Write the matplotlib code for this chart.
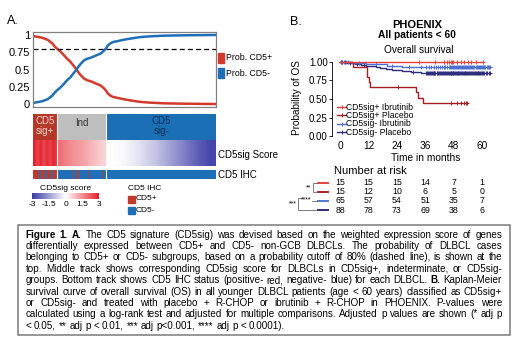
import numpy as np
import matplotlib
matplotlib.use('Agg')
import matplotlib.pyplot as plt
import matplotlib.transforms as mtransforms
from matplotlib import cm
from matplotlib.colors import LinearSegmentedColormap, ListedColormap, Normalize
from matplotlib.lines import Line2D
from matplotlib.patches import Rectangle

plt.rcParams['font.family'] = ['Liberation Sans', 'DejaVu Sans']

# ---------------- panel A data ----------------
sample_rank = [0, 3, 5, 8, 10.5, 12, 13.2, 15, 16.8, 18.5, 20.5, 22, 23.2, 24.5, 26, 27.8, 29.5,
               31.5, 33.3, 35, 36.9, 38.5, 39.7, 41, 42.4, 44, 46.1, 48.5, 51.6, 55, 58.9, 64,
               71.7, 82, 100]
prob_cd5_pos = [0.985, 0.97, 0.96, 0.93, 0.88, 0.83, 0.80, 0.76, 0.71, 0.66, 0.61, 0.56, 0.52,
                0.47, 0.42, 0.37, 0.345, 0.33, 0.31, 0.29, 0.27, 0.235, 0.20, 0.15, 0.12, 0.10,
                0.09, 0.075, 0.06, 0.045, 0.03, 0.02, 0.01, 0.005, 0.0]
prob_cutoff = 0.8

group_names = ['CD5\nsig+', 'Ind', 'CD5\nsig-']
group_sizes = [16, 32, 72]
score_sig_pos = [3.0, 2.5, 2.9, 2.4, 2.8, 2.5, 2.9, 2.7]
score_ind = [1.9, 1.7, 1.5, 1.35, 1.2, 1.0, 0.8, 0.6]
score_sig_neg = [0.0, -0.1, -0.3, -0.6, -0.9, -1.3, -1.7, -2.1, -2.5, -2.8]
ihc_pos_samples = [0, 1, 2, 3, 5, 6, 7, 9, 10, 11, 13, 14, 15, 26, 29, 36, 45]

# ---------------- panel B data ----------------
km_labels = ['CD5sig+ Ibrutinib', 'CD5sig+ Placebo', 'CD5sig- Ibrutinib', 'CD5sig- Placebo']
events_pos_ibr = []
censor_pos_ibr = [33.5, 40, 44, 45, 46, 46.8, 47.3, 47.8, 49.5, 51, 52.5, 54, 55.5, 57.5, 60.2]
events_pos_pla = [5.6, 11.2, 11.6, 12.2, 12.6, 32, 33, 35]
censor_pos_pla = [24.5, 47, 49.5, 51, 52.5, 53.2, 53.8]
events_neg_ibr = [5, 11, 20, 26]
censor_neg_ibr = [0.5, 1, 1.5, 2.5, 3.5, 8, 15, 22, 29, 34,
                  36.5, 37.5, 38.5, 39.5, 40.5, 41.5, 42.2, 43, 43.8, 44.5, 45.2, 45.9, 46.5,
                  47, 47.5, 47.9,
                  48.3, 48.7, 49.1, 49.5, 49.9, 50.3, 50.7, 51.1, 51.5, 51.9, 52.3, 52.7, 53.1,
                  53.5, 53.9, 54.3, 54.8, 55.3, 55.8, 56.3, 56.8, 57.3, 57.8, 58.3, 58.8, 59.2,
                  59.6, 59.9,
                  60.4, 60.9, 61.4, 61.9, 62.4, 62.9, 63.4]
events_neg_pla = [3, 6.5, 9, 11, 13.5, 15, 17, 19.5, 22, 26, 30, 34]
censor_neg_pla = [0.5, 1, 2, 4, 7, 10, 31,
                  36.3, 36.7, 37.2, 37.5, 37.9, 38.4, 38.7, 39.1, 39.6, 39.9, 40.3, 40.8, 41.1,
                  41.5, 42, 42.3, 42.7, 43.2, 43.5, 43.9, 44.4, 44.7, 45.1, 45.6, 45.9, 46.3,
                  46.7, 47, 47.3, 47.6, 47.9,
                  48.2, 48.6, 48.9, 49.3, 49.7, 50, 50.4, 50.8, 51.1, 51.5, 51.9, 52.2, 52.6,
                  53, 53.3, 53.7, 54.1, 54.5, 54.9, 55.3, 55.7, 56.1, 56.5, 56.9, 57.3, 57.7,
                  58.1, 58.5, 58.9, 59.3, 59.6, 59.9,
                  60.5, 61, 61.6, 62.2, 62.8, 63.4]
risk_times = [0, 12, 24, 36, 48, 60]
risk_pos_ibr = [15, 15, 15, 14, 7, 1]
risk_pos_pla = [15, 12, 10, 6, 5, 0]
risk_neg_ibr = [65, 57, 54, 51, 35, 7]
risk_neg_pla = [88, 78, 73, 69, 38, 6]

caption_lines = [
    "Figure 1. A. The CD5 signature (CD5sig) was devised based on the weighted expression score of genes",
    "differentially expressed between CD5+ and CD5- non-GCB DLBCLs. The probability of DLBCL cases",
    "belonging to CD5+ or CD5- subgroups, based on a probability cutoff of 80% (dashed line), is shown at the",
    "top. Middle track shows corresponding CD5sig score for DLBCLs in CD5sig+, indeterminate, or CD5sig-",
    "groups. Bottom track shows CD5 IHC status (positive- red, negative- blue) for each DLBCL. B. Kaplan-Meier",
    "survival curve of overall survival (OS) in all younger DLBCL patients (age < 60 years) classified as CD5sig+",
    "or CD5sig- and treated with placebo + R-CHOP or ibrutinib + R-CHOP in PHOENIX. P-values were",
    "calculated using a log-rank test and adjusted for multiple comparisons. Adjusted p values are shown (* adj p",
    "< 0.05, ** adj p < 0.01, *** adj p<0.001, **** adj p < 0.0001).",
]
bold_words = {'Figure', '1.', 'A.', 'B.'}

RED = '#d33a2c'
BLUE = '#1f6fb8'
GROUP_COLORS = ['#b5372a', '#bebebe', '#1a6fb5']
GROUP_TEXT = ['#f3d6cf', '#333333', '#0d2d5a']
KM_COLORS = ['#e8403c', '#a31f22', '#4a6fd1', '#2c2c7c']
DASH_COLORS = ['#e8403c', '#b02025', '#4a7ad0', '#2c2c7c']
score_cmap = LinearSegmentedColormap.from_list('score', ['#3b3ba6', '#ffffff', '#e4202a'])
score_norm = Normalize(-3, 3)

W, H = 520, 339
fig = plt.figure(figsize=(W / 100, H / 100), dpi=100)


def fx(x):
    return x / W


def fy(y):
    return 1 - y / H


def px_axes(x0, y0, x1, y1):
    return fig.add_axes([fx(x0), fy(y1), (x1 - x0) / W, (y1 - y0) / H])


def fig_line(xs, ys, **kw):
    fig.add_artist(Line2D([fx(x) for x in xs], [fy(y) for y in ys],
                          transform=fig.transFigure, **kw))


# ================= panel A =================
fig.text(fx(7), fy(21), 'A.', fontsize=9, va='center')

ax = px_axes(33, 32, 216, 107)
ax.plot(sample_rank, prob_cd5_pos, color=RED, lw=1.8)
ax.plot(sample_rank, 1 - np.array(prob_cd5_pos), color=BLUE, lw=1.8)
ax.axhline(prob_cutoff, color='k', lw=0.9, ls=(0, (4, 2.5)))
ax.set_xlim(0, 100)
ax.set_ylim(-0.043, 1.043)
ax.set_xticks([])
ax.set_yticks([0, 0.25, 0.5, 0.75, 1])
ax.set_yticklabels(['0', '0.25', '0.5', '0.75', '1'])
ax.tick_params(axis='y', length=0, pad=2, labelsize=8)
for s in ax.spines.values():
    s.set_color('#808080')
    s.set_linewidth(0.9)

for yy, col, lab in [(58, RED, 'Prob. CD5+'), (73, BLUE, 'Prob. CD5-')]:
    fig.patches.append(Rectangle((fx(218), fy(yy + 5)), 6 / W, 10 / H,
                                 transform=fig.transFigure, color=col))
    fig.text(fx(226), fy(yy), lab, fontsize=6.3, va='center')

n_samples = sum(group_sizes)
bounds = np.concatenate([[0], np.cumsum(group_sizes)]) * 100 / n_samples

# group bar
axg = px_axes(33, 114, 216, 140)
for i, name in enumerate(group_names):
    axg.axvspan(bounds[i], bounds[i + 1], color=GROUP_COLORS[i], lw=0)
    yt = 0.55 if '\n' in name else 0.65
    axg.text((bounds[i] + bounds[i + 1]) / 2, yt, name, ha='center', va='center',
             fontsize=7, color=GROUP_TEXT[i], linespacing=0.95)

# score track
axs = px_axes(33, 140, 216, 166)
for i, sc in enumerate([score_sig_pos, score_ind, score_sig_neg]):
    axs.imshow([sc], extent=(bounds[i], bounds[i + 1], 0, 1), aspect='auto',
               cmap=score_cmap, norm=score_norm, interpolation='bilinear')

# IHC track
ihc_row = np.zeros(n_samples)
ihc_row[ihc_pos_samples] = 1
axi = px_axes(33, 170, 216, 179)
axi.imshow([ihc_row], extent=(0, 100, 0, 1), aspect='auto',
           cmap=ListedColormap([BLUE, '#c0392b']), interpolation='nearest')

for a in (axg, axs, axi):
    for b in bounds[1:-1]:
        a.axvline(b, color='white', lw=0.8)
    a.set_xlim(0, 100)
    a.set_ylim(0, 1)
    a.axis('off')

fig.text(fx(218), fy(155), 'CD5sig Score', fontsize=7, va='center')
fig.text(fx(218), fy(175), 'CD5 IHC', fontsize=7, va='center')

# score legend
fig.text(fx(66), fy(188), 'CD5sig score', fontsize=6.1, ha='center', va='center')
cax = px_axes(32, 193, 99, 199)
cb = fig.colorbar(cm.ScalarMappable(norm=score_norm, cmap=score_cmap), cax=cax,
                  orientation='horizontal')
cb.set_ticks([-3, -1.5, 0, 1.5, 3])
cb.set_ticklabels(['-3', '-1.5', '0', '1.5', '3'])
cb.outline.set_visible(False)
cax.tick_params(length=0, labelsize=6, pad=1.5)

# IHC legend
fig.text(fx(128), fy(188), 'CD5 IHC', fontsize=6, va='center')
for yy, col, lab in [(199, '#c0392b', 'CD5+'), (210, BLUE, 'CD5-')]:
    fig.patches.append(Rectangle((fx(128), fy(yy + 3.5)), 6.5 / W, 7 / H,
                                 transform=fig.transFigure, color=col))
    fig.text(fx(136), fy(yy), lab, fontsize=6, va='center')


# ================= panel B =================
def km_steps(events, censors):
    times = np.array(events + censors, float)
    surv = 1.0
    xs, ys = [0.0], [1.0]
    for t in sorted(set(events)):
        n_risk = np.sum(times >= t)
        surv *= 1 - events.count(t) / n_risk
        xs.append(t)
        ys.append(surv)
    xs.append(times.max())
    ys.append(surv)
    return np.array(xs), np.array(ys)


fig.text(fx(290), fy(22), 'B.', fontsize=9, va='center')
fig.text(fx(417), fy(25), 'PHOENIX', fontsize=8, fontweight='bold', ha='center', va='center')
fig.text(fx(417), fy(35), 'All patients < 60', fontsize=7.3, fontweight='bold',
         ha='center', va='center')
fig.text(fx(419), fy(50), 'Overall survival', fontsize=7.3, ha='center', va='center')

axk = px_axes(332, 58, 505, 138)
groups = [(events_pos_ibr, censor_pos_ibr), (events_pos_pla, censor_pos_pla),
          (events_neg_ibr, censor_neg_ibr), (events_neg_pla, censor_neg_pla)]
for i in [3, 2, 1, 0]:
    ev, ce = groups[i]
    xs, ys = km_steps(ev, ce)
    axk.step(xs, ys, where='post', color=KM_COLORS[i], lw=1.0)
    cy = ys[np.searchsorted(xs, ce, side='right') - 1]
    axk.plot(ce, cy, '+', color=KM_COLORS[i], ms=3.5, mew=0.7)

axk.set_xlim(-3.4, 69.7)
axk.set_ylim(-0.027, 1.054)
axk.set_xticks(risk_times)
axk.set_yticks([0, 0.25, 0.5, 0.75, 1])
axk.set_yticklabels(['0.00', '0.25', '0.50', '0.75', '1.00'])
axk.tick_params(axis='y', length=2, width=0.6, pad=1, labelsize=7)
axk.tick_params(axis='x', length=0, pad=2, labelsize=7.3)
for side in ['top', 'right', 'bottom']:
    axk.spines[side].set_visible(False)
axk.spines['left'].set_bounds(0, 1)
axk.spines['left'].set_linewidth(0.6)

fig.text(fx(297), fy(98), 'Probability of OS', fontsize=7.2, rotation=90,
         ha='center', va='center')
fig.text(fx(426), fy(158), 'Time in months', fontsize=7.3, ha='center', va='center')

# legend inside the KM plot
for i, lab in enumerate(km_labels):
    yy = 107 + 8.4 * i
    fig_line([337, 346], [yy, yy], color=KM_COLORS[i], lw=1.0)
    fig_line([341.5], [yy], color=KM_COLORS[i], marker='+', ms=3.5, mew=0.7)
    fig.text(fx(346.5), fy(yy), lab, fontsize=6.2, va='center')

# number at risk table
fig.text(fx(334), fy(171), 'Number at risk', fontsize=8, va='center')
row_y = [182.5, 191.7, 200.9, 210.1]
trans = mtransforms.blended_transform_factory(axk.transData, fig.transFigure)
for yy, col, counts in zip(row_y, DASH_COLORS,
                           [risk_pos_ibr, risk_pos_pla, risk_neg_ibr, risk_neg_pla]):
    fig_line([318, 328], [yy, yy], color=col, lw=1.4)
    for t, n in zip(risk_times, counts):
        fig.text(t, fy(yy), str(n), transform=trans, ha='center', va='center', fontsize=6.3)

# significance brackets
bk = dict(color='#666666', lw=0.6)
fig_line([317, 313, 313, 317], [row_y[0], row_y[0], row_y[1], row_y[1]], **bk)
fig.text(fx(311.5), fy(187.5), '**', fontsize=5, ha='right', va='center')
fig_line([301, 298, 298, 317], [197.5, 197.5, row_y[3], row_y[3]], **bk)
fig.text(fx(301), fy(200), '****', fontsize=5, ha='left', va='center')
fig_line([311.5, 317], [row_y[2], row_y[2]], **bk)
fig.text(fx(296.5), fy(204), '***', fontsize=5, ha='right', va='center')

# ================= caption =================
fig.patches.append(Rectangle((fx(18), fy(335)), 492 / W, 110 / H, transform=fig.transFigure,
                             facecolor='white', edgecolor='#7a7a7a', lw=1.1))

renderer = fig.canvas.get_renderer()


def text_w(s, fs, bold=False):
    t = fig.text(0, 0, s, fontsize=fs, fontweight='bold' if bold else 'normal')
    w = t.get_window_extent(renderer).width
    t.remove()
    return w


left, right = 25.5, 502
fs = 7.2
while True:
    space = text_w('a a', fs) - text_w('aa', fs)
    widest = 0
    for line in caption_lines[:-1]:
        words = line.split(' ')
        nat = sum(text_w(w, fs, w in bold_words) for w in words) + space * (len(words) - 1)
        widest = max(widest, nat)
    if widest <= right - left or fs < 5:
        break
    fs -= 0.1

for k, line in enumerate(caption_lines):
    words = line.split(' ')
    widths = [text_w(w, fs, w in bold_words) for w in words]
    if k == len(caption_lines) - 1:
        gap = space
    else:
        gap = (right - left - sum(widths)) / (len(words) - 1)
    x = left
    base = 235 + 11.4 * k + 2.6
    for w, wd in zip(words, widths):
        fig.text(fx(x), fy(base), w, fontsize=fs, va='baseline',
                 fontweight='bold' if w in bold_words else 'normal')
        x += wd + gap

fig.savefig('out.png', dpi=100, facecolor='white')
